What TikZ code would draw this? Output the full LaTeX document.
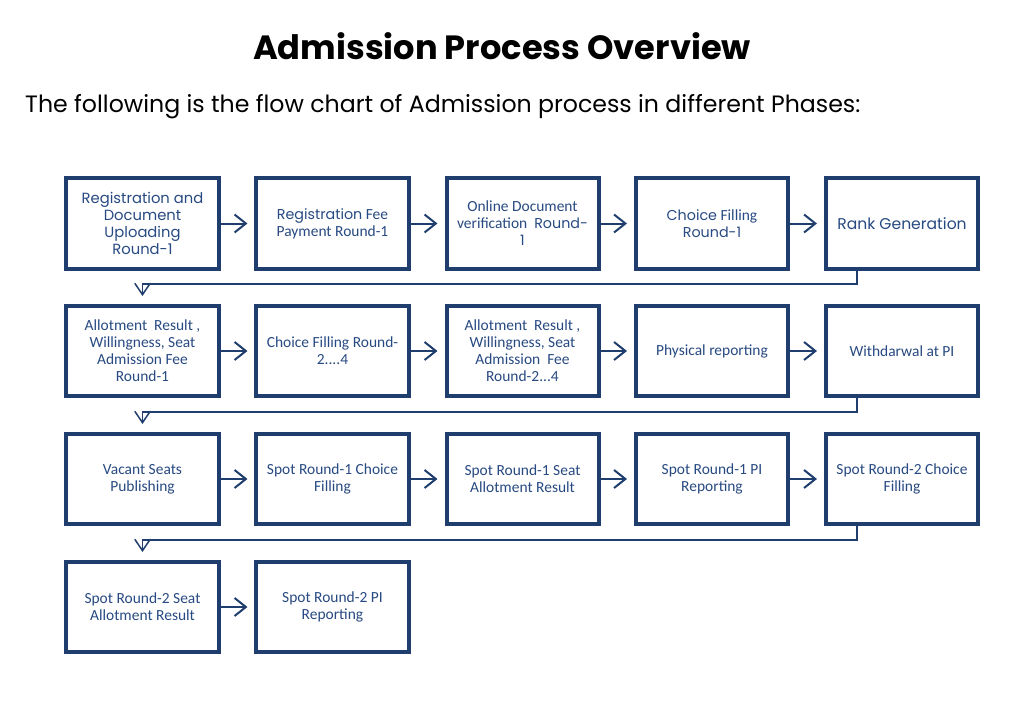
\documentclass[tikz,border=0pt]{standalone}
\usepackage{fontspec}
\setmainfont{Carlito}
\newfontfamily\gfont{Poppins}
\usetikzlibrary{arrows.meta}
\definecolor{boxline}{RGB}{31,62,109}
\definecolor{boxtext}{RGB}{40,74,130}
\newcommand{\cg}[1]{{\gfont\fontsize{12.2}{14.5}\selectfont #1}}
\tikzset{
  box/.style={draw=boxline, line width=1.2mm, fill=white, minimum width=4.56cm, minimum height=2.7cm,
    align=center, text=boxtext, font=\fontsize{13.2}{14.5}\selectfont, inner sep=1pt},
  flow/.style={draw=boxline, line width=0.6mm, -{Straight Barb[length=3.4mm, width=5.4mm]}, shorten >=2.1mm},
  back/.style={draw=boxline, line width=0.45mm, -{Straight Barb[length=3.4mm, width=4.6mm]}}
}
\begin{document}
\begin{tikzpicture}[x=0.03cm, y=-0.03cm, line join=miter]
  \useasboundingbox (0,0) rectangle (1024,701);
  \node[anchor=base, font=\gfont\bfseries\fontsize{28.7}{33}\selectfont] (title) at (502,59) {Admission Process Overview};
  \node[anchor=base west, inner sep=0pt, font=\gfont\fontsize{20.2}{24}\selectfont] (intro) at (25,112) {The following is the flow chart of Admission process in different Phases:};
  % row 1
  \node[box, font=\gfont\fontsize{12.6}{14.5}\selectfont] (reg) at (142.5,223.5) {Registration and\\Document\\Uploading\\Round-1};
  \node[box] (fee) at (332.5,223.5) {\cg{Registration} Fee\\Payment Round-1};
  \node[box] (docver) at (522.5,223.5) {Online Document\\verification\ \ \cg{Round-}\\\cg{1}};
  \node[box] (choice) at (712,223.5) {\cg{Choice} Filling\\\cg{Round-1}};
  \node[box, font=\gfont\fontsize{13.3}{14.5}\selectfont] (rank) at (902,223.5) {Rank Generation};
  % row 2
  \node[box] (allot1) at (142.5,351) {Allotment\ \ Result ,\\Willingness, Seat\\Admission Fee\\Round-1};
  \node[box] (choice2) at (332.5,351) {Choice Filling Round-\\2....4};
  \node[box] (allot2) at (522.5,351) {Allotment\ \ Result ,\\Willingness, Seat\\Admission\ \ Fee\\Round-2...4};
  \node[box] (phys) at (712,351) {Physical reporting};
  \node[box] (withdraw) at (902,351) {Withdarwal at PI};
  % row 3
  \node[box] (vacant) at (142.5,479) {Vacant Seats\\Publishing};
  \node[box] (spotAc) at (332.5,479) {Spot Round-1 Choice\\Filling};
  \node[box] (spotAs) at (522.5,479) {Spot Round-1 Seat\\Allotment Result};
  \node[box] (spotApi) at (712,479) {Spot Round-1 PI\\Reporting};
  \node[box] (spotBc) at (902,479) {Spot Round-2 Choice\\Filling};
  % row 4
  \node[box] (spotBs) at (142.5,607) {Spot Round-2 Seat\\Allotment Result};
  \node[box] (spotBpi) at (332.5,607) {Spot Round-2 PI\\Reporting};
  % arrows in rows
  \draw[flow] (reg) -- (fee);
  \draw[flow] (fee) -- (docver);
  \draw[flow] (docver) -- (choice);
  \draw[flow] (choice) -- (rank);
  \draw[flow] (allot1) -- (choice2);
  \draw[flow] (choice2) -- (allot2);
  \draw[flow] (allot2) -- (phys);
  \draw[flow] (phys) -- (withdraw);
  \draw[flow] (vacant) -- (spotAc);
  \draw[flow] (spotAc) -- (spotAs);
  \draw[flow] (spotAs) -- (spotApi);
  \draw[flow] (spotApi) -- (spotBc);
  \draw[flow] (spotBs) -- (spotBpi);
  % back to next row
  \draw[back] ([xshift=-1.35cm]rank.south) |- ([yshift=0.6cm]allot1.north) -- ([yshift=0.24cm]allot1.north);
  \draw[back] ([xshift=-1.35cm]withdraw.south) |- ([yshift=0.6cm]vacant.north) -- ([yshift=0.24cm]vacant.north);
  \draw[back] ([xshift=-1.35cm]spotBc.south) |- ([yshift=0.6cm]spotBs.north) -- ([yshift=0.24cm]spotBs.north);
\end{tikzpicture}
\end{document}
